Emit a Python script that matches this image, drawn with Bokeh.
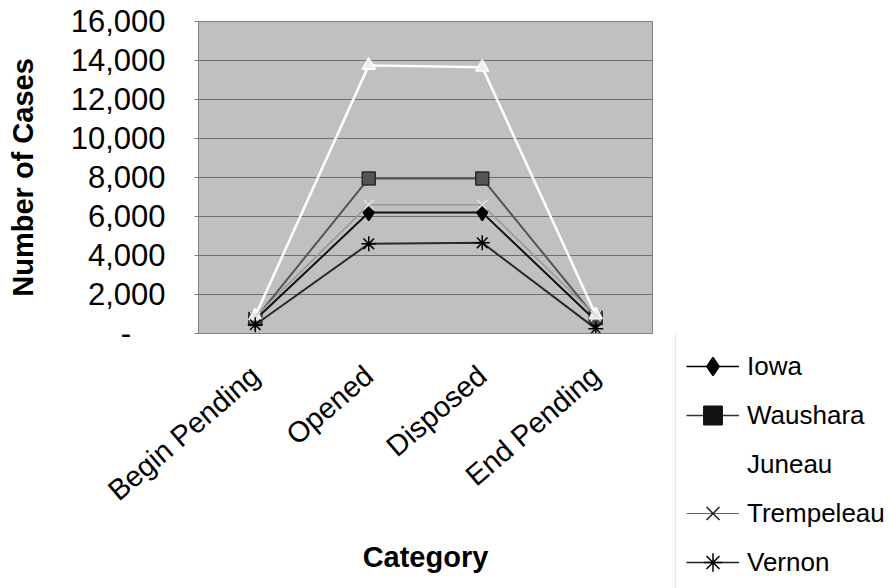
import math
from bokeh.plotting import figure
from bokeh.layouts import row, column
from bokeh.models import Legend, LegendItem, CustomJSTickFormatter, FixedTicker, Spacer
from bokeh.embed import file_html
from bokeh.resources import INLINE

categories = ["Begin Pending", "Opened", "Disposed", "End Pending"]
iowa = [700, 6200, 6200, 650]
waushara = [750, 7950, 7950, 800]
juneau = [900, 13750, 13650, 950]
trempeleau = [850, 6600, 6600, 900]
vernon = [450, 4600, 4650, 250]
y_ticks = [0, 2000, 4000, 6000, 8000, 10000, 12000, 14000, 16000]
series_names = ["Iowa", "Waushara", "Juneau", "Trempeleau", "Vernon"]

FONT = "Liberation Sans"
NB = "\u00a0"

p = figure(x_range=categories, y_range=(0, 16000), width=675, height=588,
           output_backend="svg", toolbar_location=None,
           min_border_left=198, min_border_right=23, min_border_top=21,
           min_border_bottom=255)

p.background_fill_color = "#c0c0c0"
p.border_fill_color = "white"
p.outline_line_color = "#808080"
p.outline_line_width = 1

p.xgrid.grid_line_color = None
p.ygrid.grid_line_color = "#6f6f6f"
p.ygrid.grid_line_width = 1

p.yaxis.ticker = FixedTicker(ticks=y_ticks)
p.yaxis.formatter = CustomJSTickFormatter(
    code="return tick == 0 ? '-\u00a0\u00a0\u00a0\u00a0' : tick.toLocaleString('en-US');")
p.yaxis.major_label_text_font = FONT
p.yaxis.major_label_text_font_size = "31px"
p.yaxis.major_label_text_color = "black"
p.yaxis.major_label_standoff = 29
p.yaxis.major_tick_out = 4
p.yaxis.major_tick_in = 0
p.yaxis.minor_tick_line_color = None
p.yaxis.major_tick_line_color = "#808080"
p.yaxis.axis_line_color = "#808080"
p.yaxis.axis_label = "Number of Cases"
p.yaxis.axis_label_text_font = FONT
p.yaxis.axis_label_text_font_style = "bold"
p.yaxis.axis_label_text_font_size = "29px"
p.yaxis.axis_label_text_color = "black"
p.yaxis.axis_label_standoff = 29

p.xaxis.major_label_orientation = 0.71
p.xaxis.major_label_overrides = {c: c + NB + NB + NB for c in categories}
p.xaxis.major_label_text_font = FONT
p.xaxis.major_label_text_font_size = "29px"
p.xaxis.major_label_text_color = "black"
p.xaxis.major_label_standoff = 38
p.xaxis.major_tick_out = 0
p.xaxis.major_tick_in = 0
p.xaxis.major_tick_line_color = None
p.xaxis.minor_tick_line_color = None
p.xaxis.axis_line_color = "#808080"
p.xaxis.axis_label = "Category"
p.xaxis.axis_label_text_font = FONT
p.xaxis.axis_label_text_font_style = "bold"
p.xaxis.axis_label_text_font_size = "29px"
p.xaxis.axis_label_text_color = "black"
p.xaxis.axis_label_standoff = 19

styles = [
    ("#111111", 2, "diamond", 16, "#000000", "#000000"),
    ("#555555", 2, "square", 13, "#555555", "#2a2a2a"),
    ("#ffffff", 2.5, "triangle", 13, "#eeeeee", "#ffffff"),
    ("#999999", 1.6, "x", 14, "#e0e0e0", "#e0e0e0"),
    ("#2a2a2a", 2, "asterisk", 15, "#000000", "#000000"),
]
data = [iowa, waushara, juneau, trempeleau, vernon]

for vals, (lc, lw, mk, ms, fc, ec) in zip(data, styles):
    p.line(categories, vals, line_color=lc, line_width=lw)
    p.scatter(categories, vals, marker=mk, size=ms, fill_color=fc,
              line_color=ec, line_width=1.5)

# legend panel (series drawn out of its visible range, only legend shows)
p2 = figure(width=214, height=254, x_range=categories, y_range=(-3, -2),
            output_backend="svg", toolbar_location=None,
            min_border_left=0, min_border_right=0, min_border_top=0,
            min_border_bottom=0)
p2.axis.visible = False
p2.grid.visible = False
p2.outline_line_color = None
p2.background_fill_color = "white"
p2.border_fill_color = "white"

legend_styles = [
    ("#000000", 1.5, "diamond", 16, "#000000", "#000000"),
    ("#333333", 1.5, "square", 12, "#111111", "#111111"),
    ("#ffffff", 1.5, "triangle", 12, "#ffffff", "#ffffff"),
    ("#666666", 1, "x", 13, "#222222", "#222222"),
    ("#222222", 1.5, "asterisk", 15, "#000000", "#000000"),
]
items = []
for name, vals, (lc, lw, mk, ms, fc, ec) in zip(series_names, data, legend_styles):
    ln = p2.line(categories, vals, line_color=lc, line_width=lw)
    sc = p2.scatter(categories, vals, marker=mk, size=ms, fill_color=fc,
                    line_color=ec, line_width=1.5)
    items.append(LegendItem(label=name, renderers=[ln, sc]))

legend = Legend(items=items, location=(0, -8), orientation="vertical",
                label_text_font=FONT, label_text_font_size="26px",
                label_text_color="black",
                glyph_width=53, glyph_height=46, label_height=46,
                spacing=3, padding=10, margin=0, label_standoff=8,
                border_line_color="#d0d0d0", border_line_width=1,
                background_fill_color="white", background_fill_alpha=1)
p2.add_layout(legend, "center")

right_col = column(Spacer(width=214, height=334), p2, spacing=0)
layout = row(p, right_col, spacing=0)
open("out.html", "w").write(file_html(layout, INLINE))
